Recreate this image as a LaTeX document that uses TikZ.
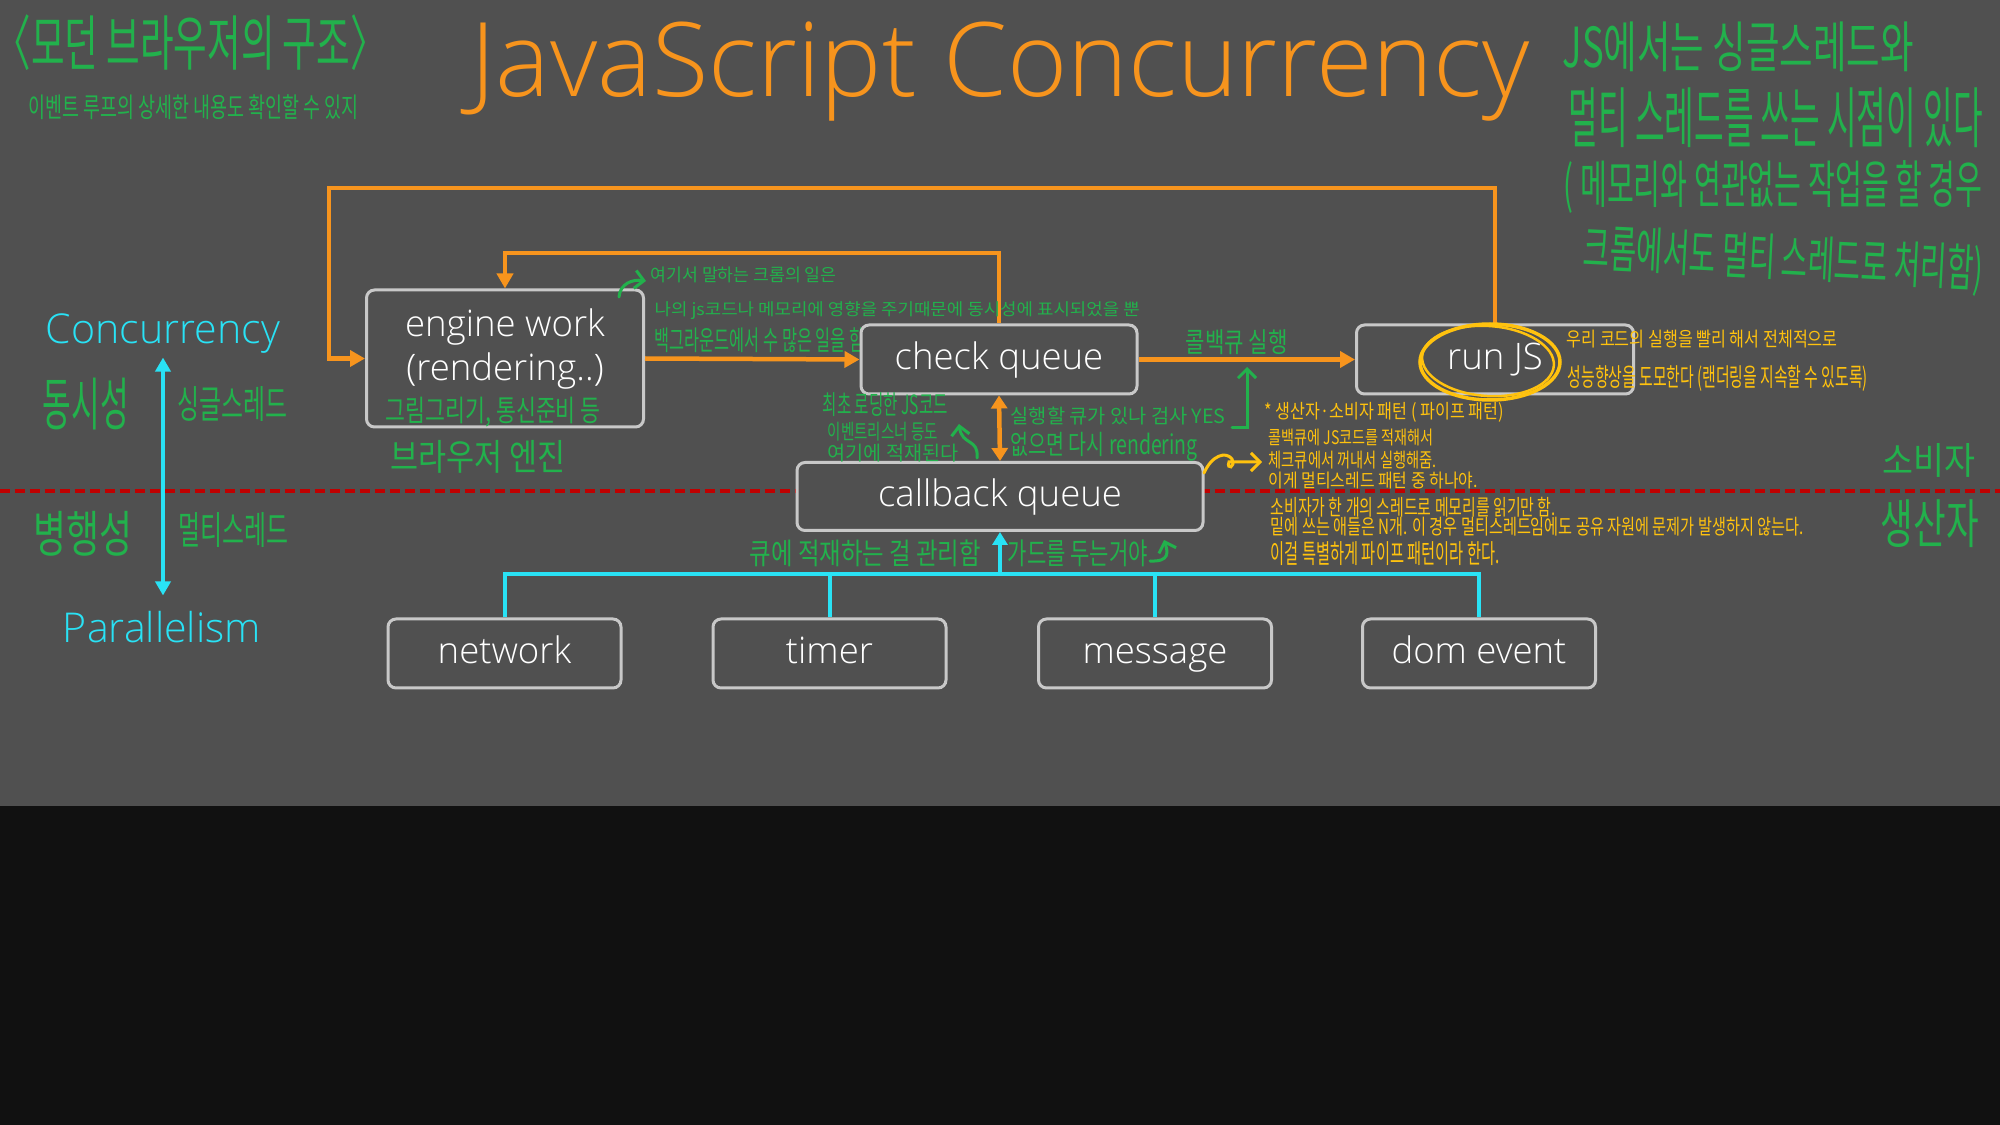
\documentclass[tikz,border=0pt]{standalone}
\usepackage{fontspec}
\setmainfont{Open Sans}
\newfontfamily\light{Open Sans Light}
\newfontfamily\kr{Noto Sans CJK KR}
\usepackage{graphicx}
\usepackage{xcolor}
\usepackage{tikz}
\usetikzlibrary{arrows.meta}
\usetikzlibrary{shapes}

\definecolor{bg}{HTML}{505050}
\definecolor{lowbg}{HTML}{111111}
\definecolor{jsorange}{HTML}{F7941D}
\definecolor{pengreen}{HTML}{22B14C}
\definecolor{penyellow}{HTML}{FFC20E}
\definecolor{jscyan}{HTML}{29E2F5}
\definecolor{boxline}{HTML}{C8C8C8}
\definecolor{dashred}{HTML}{C00000}

% 손글씨 메모: 폭, 높이를 맞춰서 늘림
\newcommand{\hand}[3]{\resizebox*{#1}{#2}{\kr #3}}

\tikzstyle{box} = [draw=boxline, line width=0.3mm, rounded corners=0.8mm, fill=bg, text=white, inner sep=0, text height=2.8mm, text depth=0.8mm, font=\light\fontsize{10.4}{12.5}\selectfont]
\tikzstyle{boxtext} = [text=white, inner sep=0, align=center, font=\light\fontsize{10.4}{12.5}\selectfont]
\tikzstyle{gnote} = [text=pengreen, inner sep=0, anchor=west]
\tikzstyle{ynote} = [text=penyellow, inner sep=0, anchor=west]
\tikzstyle{oarrow} = [jsorange, line width=0.45mm, -{Triangle[length=1.5mm,width=1.6mm]}]
\tikzstyle{cline} = [jscyan, line width=0.4mm]
\tikzstyle{garrow} = [pengreen, line width=0.3mm, line cap=round, -{Straight Barb[length=0.9mm]}]
\tikzstyle{yarrow} = [penyellow, line width=0.3mm, line cap=round, -{Straight Barb[length=0.9mm]}]

\begin{document}
\begin{tikzpicture}[x=0.1mm, y=-0.1mm]
    \useasboundingbox (0,0) rectangle (2000,1125);
    \fill[bg] (0,0) rectangle (2000,806);
    \fill[lowbg] (0,806) rectangle (2000,1125);

    % 제목
    \node[text=jsorange, inner sep=0, font=\light\fontsize{29.3}{31}\selectfont] (title) at (1000,72) {JavaScript Concurrency};
    \node[gnote] (brtitle) at (-6,43) {\hand{39.2mm}{5.6mm}{〈모던 브라우저의 구조〉}};
    \node[gnote] (brsub) at (28,107) {\hand{33mm}{2.5mm}{이벤트 루프의 상세한 내용도 확인할 수 있지}};

    \node[gnote] (jsline1) at (1562,47) {\hand{35.1mm}{5mm}{JS에서는 싱글스레드와}};
    \node[gnote] (jsline2) at (1568,118) {\hand{41.4mm}{6mm}{멀티 스레드를 쓰는 시점이 있다}};
    \node[gnote] (jsline3) at (1563,187) {\hand{41.9mm}{5.3mm}{( 메모리와 연관없는 작업을 할 경우}};
    \node[gnote, rotate=-3] (jsline4) at (1583,250) {\hand{40mm}{5.2mm}{크롬에서도  멀티 스레드로 처리함)}};

    % 동시성 / 병행성 구분선
    \coordinate (splitL) at (0,491);
    \coordinate (splitR) at (2000,491);
    \draw[dashred, line width=0.4mm, dash pattern=on 1mm off 0.5mm] (splitL) -- (splitR);

    \node[text=jscyan, inner sep=0, font=\light\fontsize{11.7}{14}\selectfont] (conc) at (163,334) {Concurrency};
    \node[text=jscyan, inner sep=0, font=\light\fontsize{11.7}{14}\selectfont] (para) at (162,627) {Parallelism};
    \draw[jscyan, line width=0.4mm, {Triangle[length=1.4mm,width=1.5mm]}-{Triangle[length=1.4mm,width=1.5mm]}, shorten <=0.3mm, shorten >=1.5mm] (conc.south) -- (conc.south |- para.north);
    \node[gnote] (syncko) at (42,404) {\hand{8.6mm}{5.2mm}{동시성}};
    \node[gnote] (singleko) at (177,404) {\hand{11mm}{3.5mm}{싱글스레드}};
    \node[gnote] (parako) at (33,534) {\hand{9.9mm}{4.5mm}{병행성}};
    \node[gnote] (multiko) at (178,530) {\hand{11mm}{3.5mm}{멀티스레드}};

    % 박스 뒤로 가려지는 메모
    \node[gnote] (chrome3) at (654,340) {\hand{21mm}{2.5mm}{백그라운드에서 수 많은 일을 함}};

    % 박스
    \node[box, minimum width=27.7mm, minimum height=13.7mm] (engine) at (505,358.5) {};
    \node[boxtext] (enginetxt) at (505,349) {engine work\\(rendering..)};
    \node[box, minimum width=27.6mm, minimum height=6.9mm] (check) at (999,359.5) {check queue};
    \node[box, minimum width=27.7mm, minimum height=6.9mm] (runjs) at (1495,359.5) {run JS};
    \node[box, minimum width=40.6mm, minimum height=6.8mm] (callback) at (1000,496.5) {callback queue};
    \node[box, minimum width=23.3mm, minimum height=6.9mm] (network) at (504.5,653.5) {network};
    \node[box, minimum width=23.3mm, minimum height=6.9mm] (timer) at (829.5,653.5) {timer};
    \node[box, minimum width=23.3mm, minimum height=6.9mm] (message) at (1155,653.5) {message};
    \node[box, minimum width=23.3mm, minimum height=6.9mm] (domevent) at (1479,653.5) {dom event};

    % 주황 화살표
    \coordinate (looptop) at (329,188);
    \coordinate (cktop) at (505,253);
    \draw[oarrow] (runjs.north) |- (looptop) |- (engine.west);
    \draw[oarrow] (check.north) |- (cktop) -- (engine.north);
    \draw[oarrow] (engine.east) -- (check.west);
    \draw[oarrow] (check.east) -- (runjs.west);
    \draw[oarrow, {Triangle[length=1.3mm,width=1.6mm]}-{Triangle[length=1.3mm,width=1.6mm]}] (check.south) -- (callback.north);

    % 하늘색 연결선
    \coordinate (bus) at (1000,574);
    \draw[cline] (network.north) |- (bus) -| (domevent.north);
    \foreach \n in {timer,message}
        \draw[cline] (\n.north) -- (\n.north |- bus);
    \draw[cline, -{Triangle[length=1.3mm,width=1.5mm]}] (bus) -- (callback.south);

    % 초록 메모
    \coordinate (hook1) at (619,297);
    \draw[garrow] (hook1) .. controls (620,284) and (632,279) .. (646,281);
    \node[gnote] (chrome1) at (650,275) {\hand{18.6mm}{1.6mm}{여기서 말하는 크롬의 일은}};
    \node[gnote] (chrome2) at (654,311) {\hand{48.5mm}{1.8mm}{나의 js코드나 메모리에 영향을 주기때문에 동시성에 표시되었을 뿐}};
    \node[gnote] (enginesub) at (385,412) {\hand{21.5mm}{3mm}{그림그리기, 통신준비 등}};
    \node[gnote] (enginename) at (390,457) {\hand{17.5mm}{3.3mm}{브라우저 엔진}};
    \node[gnote] (load1) at (822,405) {\hand{12.5mm}{2.4mm}{최초 로딩한 JS코드}};
    \node[gnote] (load2) at (827,432) {\hand{11mm}{1.9mm}{이벤트리스너 등도}};
    \node[gnote] (load3) at (827,453) {\hand{13.1mm}{1.8mm}{여기에 적재된다}};
    \coordinate (hook2) at (977,458);
    \draw[garrow] (hook2) .. controls (979,438) and (962,446) .. (959,424);
    \node[gnote] (check1) at (1010,416) {\hand{21.5mm}{1.8mm}{실행할 큐가 있나 검사 YES}};
    \node[gnote] (check2) at (1010,447) {\hand{18.7mm}{2.9mm}{없으면 다시 rendering}};
    \coordinate (yesend) at (1232,428);
    \coordinate (yestip) at (1247,367);
    \draw[garrow] (yesend) -| (yestip);
    \node[gnote] (cbrun) at (1185,342) {\hand{10.2mm}{2.5mm}{콜백큐 실행}};
    \node[gnote] (guard1) at (749,553) {\hand{23.1mm}{2.7mm}{큐에 적재하는 걸 관리함}};
    \node[gnote] (guard2) at (1007,553) {\hand{14mm}{2.7mm}{가드를 두는거야}};
    \coordinate (hook3) at (1150,561);
    \draw[garrow] (hook3) .. controls (1170,562) and (1168,552) .. (1164,540);
    \node[gnote] (consumer) at (1882,460) {\hand{9.3mm}{3.4mm}{소비자}};
    \node[gnote] (producer) at (1880,524) {\hand{9.8mm}{4.8mm}{생산자}};

    % 노란 메모
    \draw[penyellow, line width=0.35mm] (1490,362) ellipse [x radius=70, y radius=38];
    \draw[penyellow, line width=0.25mm, rotate around={-4:(1488,361)}] (1488,361) ellipse [x radius=66, y radius=35];
    \node[ynote] (fast1) at (1566,339) {\hand{27.1mm}{1.8mm}{우리 코드의 실행을 빨리 해서 전체적으로}};
    \node[ynote] (fast2) at (1567,378) {\hand{30mm}{2.6mm}{성능향상을 도모한다 (랜더링을 지속할 수 있도록)}};
    \node[ynote] (pipe1) at (1264,412) {\hand{23.9mm}{2mm}{* 생산자·소비자 패턴 ( 파이프 패턴)}};
    \node[ynote] (pipe2) at (1268,437) {\hand{16.5mm}{1.7mm}{콜백큐에 JS코드를 적재해서}};
    \node[ynote] (pipe3) at (1268,460) {\hand{16.8mm}{1.8mm}{체크큐에서 꺼내서 실행해줌.}};
    \node[ynote] (pipe4) at (1268,480) {\hand{20.9mm}{1.7mm}{이게 멀티스레드 패턴 중 하나야.}};
    \node[ynote] (pipe5) at (1270,507) {\hand{28.5mm}{2mm}{소비자가 한 개의 스레드로 메모리를 읽기만 함.}};
    \node[ynote] (pipe6) at (1270,527) {\hand{53.3mm}{1.9mm}{밑에 쓰는 애들은 N개. 이 경우 멀티스레드임에도 공유 자원에 문제가 발생하지 않는다.}};
    \node[ynote] (pipe7) at (1270,554) {\hand{22.9mm}{2.4mm}{이걸 특별하게 파이프 패턴이라 한다.}};
    \coordinate (curl) at (1204,473);
    \draw[yarrow] (curl) .. controls (1212,455) and (1226,451) .. (1232,459) .. controls (1236,468) and (1226,470) .. (1229,462) -- (1262,462);
\end{tikzpicture}
\end{document}
